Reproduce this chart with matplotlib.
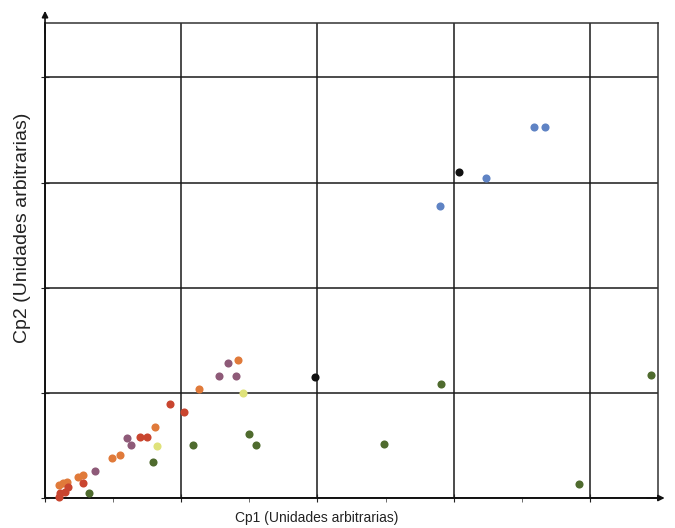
import matplotlib.pyplot as plt
import numpy as np

plt.rcParams['font.family'] = ['Liberation Sans', 'DejaVu Sans']

# puntos por grupo (Cp1, Cp2)
azul_x = [3.59, 3.67, 3.24, 2.90]
azul_y = [3.53, 3.53, 3.04, 2.78]

negro_x = [3.04, 1.98]
negro_y = [3.10, 1.15]

verde_x = [2.91, 4.45, 2.49, 3.92, 1.50, 1.55, 1.09, 0.79, 0.32]
verde_y = [1.08, 1.17, 0.51, 0.13, 0.61, 0.50, 0.50, 0.34, 0.05]

amarillo_x = [1.45, 0.82]
amarillo_y = [1.00, 0.49]

naranja_x = [1.42, 1.13, 0.81, 0.55, 0.49, 0.28, 0.24, 0.16, 0.13, 0.10]
naranja_y = [1.31, 1.04, 0.68, 0.41, 0.38, 0.22, 0.20, 0.15, 0.14, 0.12]

rojo_x = [0.92, 1.02, 0.70, 0.75, 0.28, 0.17, 0.15, 0.11, 0.10]
rojo_y = [0.89, 0.82, 0.58, 0.58, 0.14, 0.10, 0.06, 0.05, 0.01]

morado_x = [1.34, 1.28, 1.40, 0.60, 0.63, 0.37]
morado_y = [1.28, 1.16, 1.16, 0.57, 0.50, 0.26]

fig = plt.figure(dpi=100, figsize=(6.75, 5.28))
ax = fig.add_axes([0.0667, 0.0568, 0.908, 0.90])

ax.set_xlim(0, 4.5)
ax.set_ylim(0, 4.52)
ax.set_xticks([0, 1, 2, 3, 4])
ax.set_yticks([0, 1, 2, 3, 4])
ax.set_xticks([0.5, 1.5, 2.5, 3.5], minor=True)
ax.set_xticklabels([])
ax.set_yticklabels([])
ax.tick_params(axis='both', which='major', direction='inout', length=6, color='#222')
ax.tick_params(axis='x', which='minor', direction='out', length=3, color='#555')
ax.grid(True, which='major', color='#1a1a1a', linewidth=1.1)
ax.set_axisbelow(True)

for s in ['top', 'right']:
    ax.spines[s].set_color('#333')
    ax.spines[s].set_linewidth(1.1)
for s in ['left', 'bottom']:
    ax.spines[s].set_color('#111')
    ax.spines[s].set_linewidth(1.4)

# flechas de los ejes
ax.annotate('', xy=(0, 4.66), xytext=(0, 4.4),
            arrowprops=dict(arrowstyle='-|>', color='#111', lw=1.2, mutation_scale=9),
            annotation_clip=False)
ax.annotate('', xy=(4.57, 0), xytext=(4.4, 0),
            arrowprops=dict(arrowstyle='-|>', color='#111', lw=1.2, mutation_scale=9),
            annotation_clip=False)

kw = dict(s=34, linewidths=0, zorder=3, clip_on=False)
ax.scatter(naranja_x, naranja_y, color='#e07a3a', **kw)
ax.scatter(rojo_x, rojo_y, color='#c9452f', **kw)
ax.scatter(morado_x, morado_y, color='#8e5a78', **kw)
ax.scatter(amarillo_x, amarillo_y, color='#dfe27a', **kw)
ax.scatter(verde_x, verde_y, color='#4f6b2e', **kw)
ax.scatter(azul_x, azul_y, color='#5f83c4', **kw)
ax.scatter(negro_x, negro_y, color='#111111', **kw)

fig.text(0.469, 0.019, 'Cp1 (Unidades arbitrarias)', fontsize=10, color='#222',
         ha='center', va='center')
fig.text(0.034, 0.568, 'Cp2 (Unidades arbitrarias)', fontsize=14, color='#222',
         ha='center', va='center', rotation=90)

plt.savefig('out.png')
